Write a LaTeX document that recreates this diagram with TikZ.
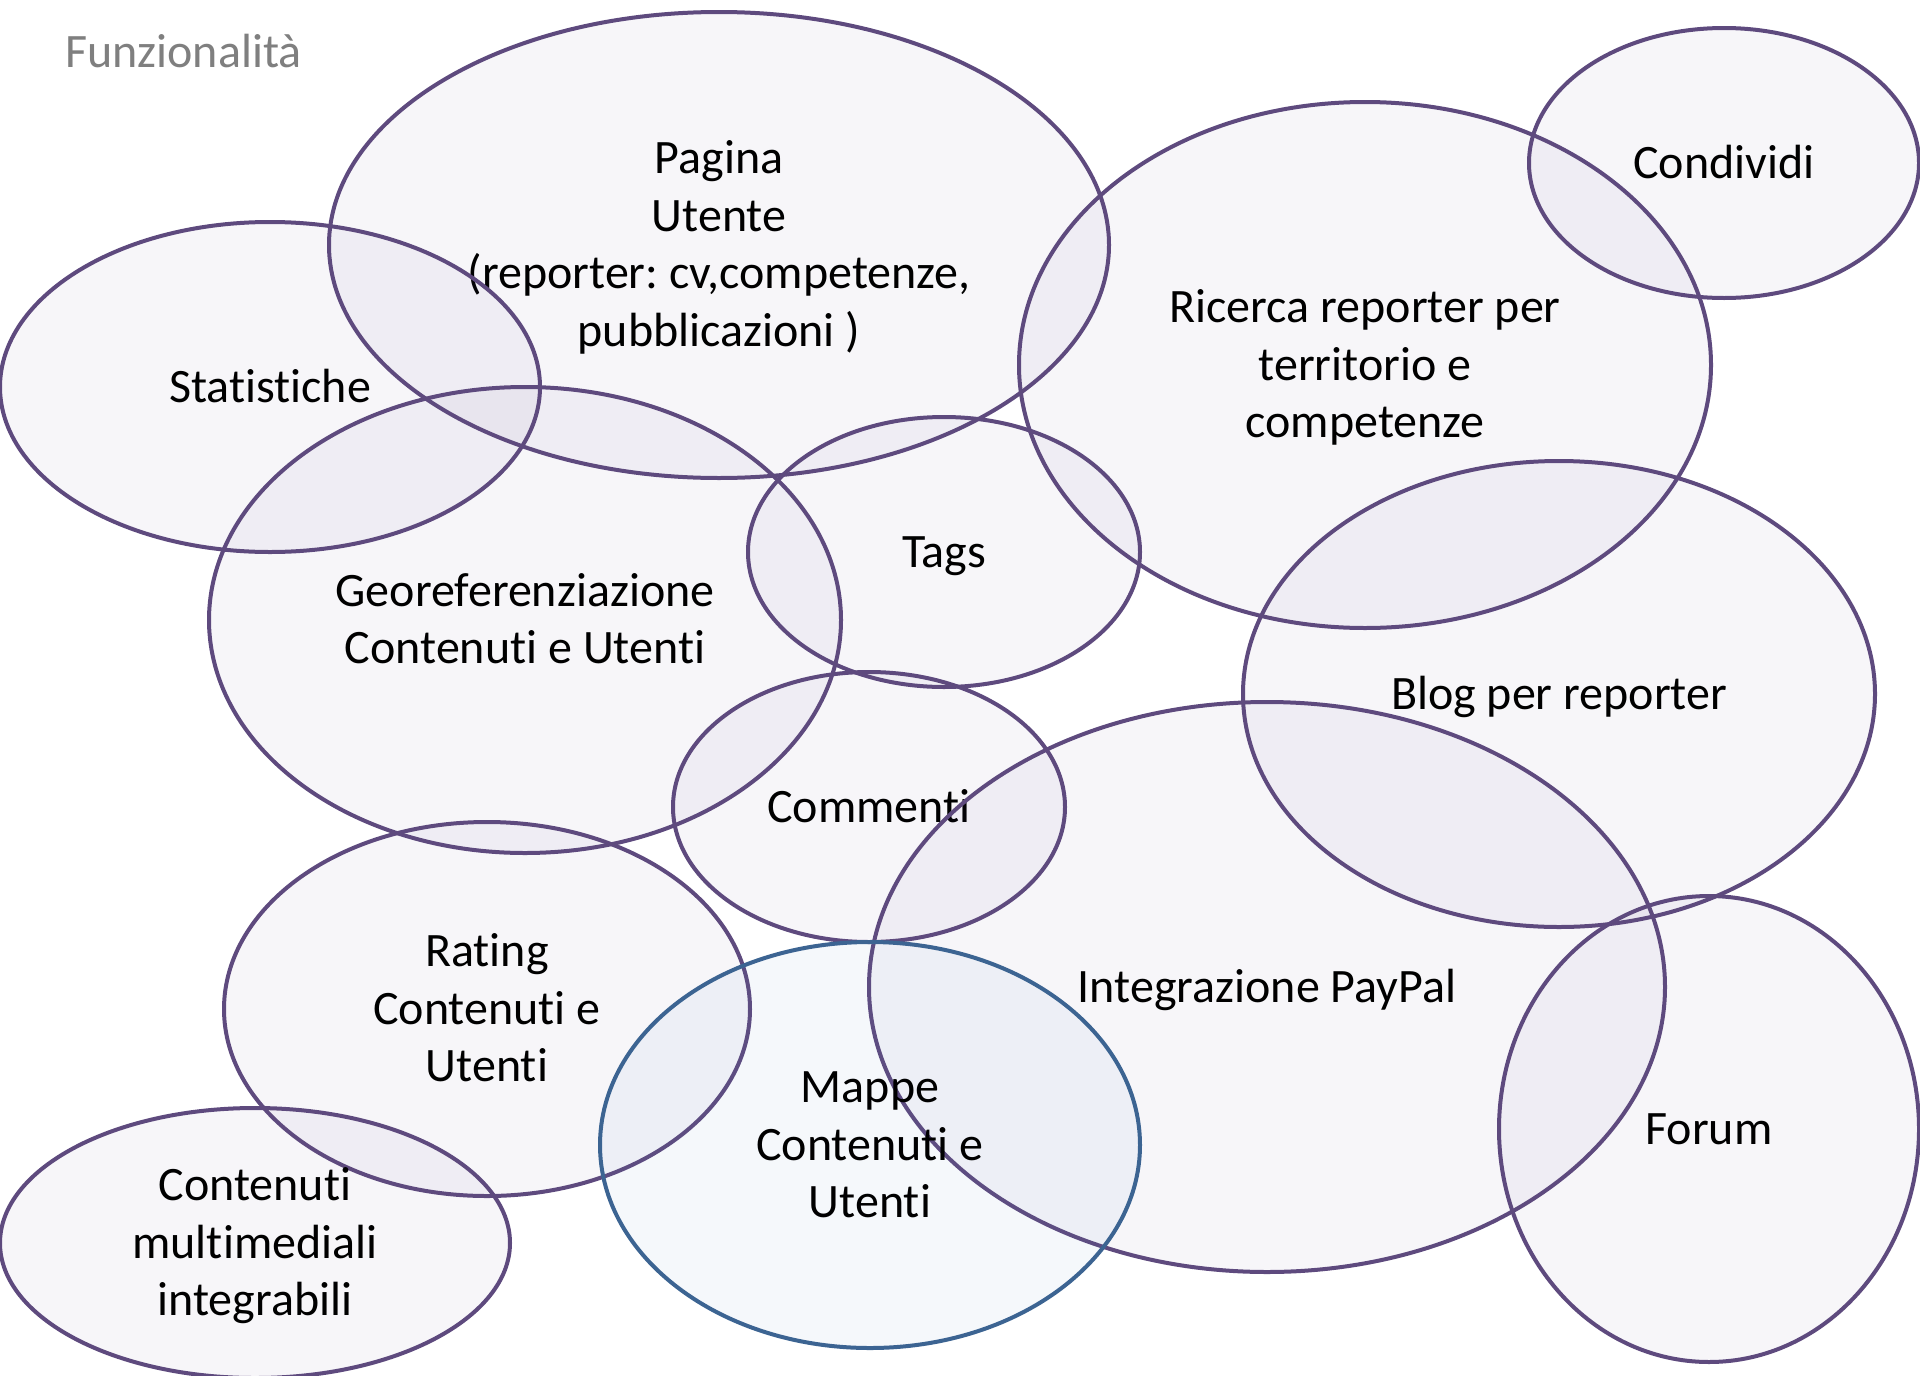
\documentclass[tikz,border=0pt]{standalone}
\usepackage{fontspec}
\setmainfont{Carlito}[Ligatures={NoCommon}]
\usetikzlibrary{shapes.geometric}
\frenchspacing

\definecolor{arealine}{HTML}{5E4A7E}
\definecolor{areafill}{HTML}{5F4B8B}
\definecolor{mapline}{HTML}{3C6492}
\definecolor{mapfill}{HTML}{4F81BD}
\definecolor{titlegray}{HTML}{7F7F7F}

% same line box for every label
\newcommand{\arealine}{\rule[-13.5pt]{0pt}{57pt}}

\begin{document}
\begin{tikzpicture}[x=1pt, y=-1pt,
    area/.style={ellipse, draw=arealine, line width=4pt, fill=areafill,
        fill opacity=0.05, text opacity=1, inner sep=0pt, align=center,
        font=\fontsize{48}{57.5}\selectfont,
        execute at begin node=\arealine, execute at end node=\arealine},
    maparea/.style={area, draw=mapline, fill=mapfill, fill opacity=0.06}]
    \useasboundingbox (0,0) rectangle (1920,1376);
    %
    \node[anchor=base west, inner sep=0pt, text=titlegray, font=\fontsize{48}{57.5}\selectfont] (title) at (65,67) {Funzionalità};
    %
    \node[area, minimum width=780pt, minimum height=466pt] (pagina)    at (719,245)  {\arealine Pagina\\Utente\\(reporter: cv,competenze,\\pubblicazioni )};
    \node[area, minimum width=540pt, minimum height=330pt] (stat)      at (270,387)  {Statistiche};
    \node[area, minimum width=632pt, minimum height=466pt] (georef)    at (525,620)  {\arealine Georeferenziazione\\Contenuti e Utenti};
    \node[area, minimum width=392pt, minimum height=270pt] (tags)      at (944,552)  {Tags};
    \node[area, minimum width=692pt, minimum height=526pt] (ricerca)   at (1365,365) {\arealine Ricerca reporter per\\territorio e\\competenze};
    \node[area, minimum width=390pt, minimum height=270pt] (condividi) at (1724,163) {Condividi};
    \node[area, minimum width=632pt, minimum height=466pt] (blog)      at (1559,694) {Blog per reporter};
    \node[area, minimum width=392pt, minimum height=270pt] (commenti)  at (869,807)  {Commenti};
    \node[area, minimum width=796pt, minimum height=570pt] (paypal)    at (1267,987) {Integrazione PayPal};
    \node[area, minimum width=526pt, minimum height=374pt] (rating)    at (487,1009) {\arealine Rating\\Contenuti e\\Utenti};
    \node[area, minimum width=420pt, minimum height=466pt] (forum)     at (1709,1129) {Forum};
    \node[area, minimum width=510pt, minimum height=270pt] (multimedia) at (255,1243) {\arealine Contenuti\\multimediali\\integrabili};
    %
    \node[maparea, minimum width=540pt, minimum height=406pt] (mappe)  at (870,1145) {\arealine Mappe\\Contenuti e\\Utenti};
\end{tikzpicture}
\end{document}
